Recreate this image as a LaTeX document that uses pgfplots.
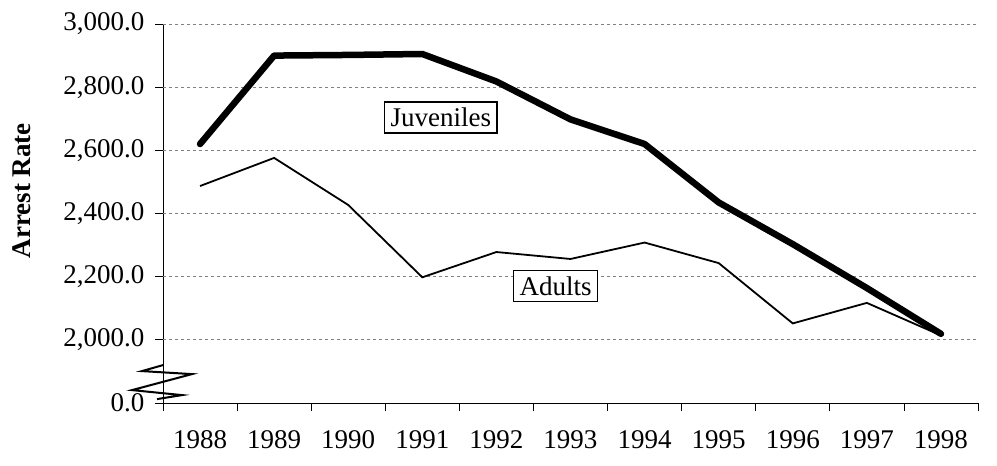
\documentclass[border=0pt]{standalone}
\usepackage{pgfplots}
\pgfplotsset{compat=1.18}
\usepackage{fontspec}
\setmainfont{Liberation Serif}
\begin{document}
\begin{tikzpicture}
\path[use as bounding box] (-163pt,-63pt) rectangle (834pt,403pt);
\begin{axis}[
  scale only axis,
  width=815pt, height=379pt,
  xmin=-0.5, xmax=10.5,
  ymin=1800, ymax=3000,
  axis x line*=bottom,
  axis y line*=left,
  axis line style={line width=0.8pt},
  xtick={0,1,2,3,4,5,6,7,8,9,10},
  xticklabels={1988,1989,1990,1991,1992,1993,1994,1995,1996,1997,1998},
  major x tick style={draw=none},
  minor xtick={-0.5,0.5,1.5,2.5,3.5,4.5,5.5,6.5,7.5,8.5,9.5,10.5},
  minor tick length=8pt,
  minor x tick style={line width=0.8pt, black},
  ytick={1800,2000,2200,2400,2600,2800,3000},
  yticklabels={{0.0},{2,000.0},{2,200.0},{2,400.0},{2,600.0},{2,800.0},{3,000.0}},
  tick align=outside,
  major tick length=8pt,
  y tick style={line width=0.8pt, black},
  ticklabel style={font=\fontsize{27}{32}\selectfont},
  xticklabel style={yshift=-16pt},
  yticklabel style={xshift=-7pt},
  extra y ticks={2000,2200,2400,2600,2800,3000},
  extra y tick labels={},
  extra y tick style={grid=major, major tick length=0pt, grid style={dashed, gray, line width=0.7pt}},
  ylabel={\textbf{Arrest Rate}},
  every axis y label/.style={at={(axis description cs:-0.173,0.56)}, rotate=90, anchor=center, font=\fontsize{27}{32}\selectfont},
  clip=false,
]
\addplot[black, line width=6.5pt, line join=round, line cap=round] coordinates {
 (0,2620) (1,2900) (2,2902) (3,2905) (4,2818) (5,2698) (6,2620) (7,2435) (8,2303) (9,2164) (10,2019)};
\addplot[black, line width=1.8pt, line join=miter] coordinates {
 (0,2487) (1,2576) (2,2427) (3,2198) (4,2278) (5,2256) (6,2308) (7,2243) (8,2052) (9,2117) (10,2014)};
\node[draw=black, line width=1.2pt, fill=white, inner xsep=6pt, inner ysep=6pt, font=\fontsize{27}{32}\selectfont] at (axis cs:3.25,2704) {Juveniles};
\node[draw=black, line width=1.2pt, fill=white, inner xsep=6pt, inner ysep=6pt, font=\fontsize{27}{32}\selectfont] at (axis cs:4.8,2171) {Adults};
\draw[black, line width=2pt] (axis cs:-0.5,1920) -- ++(-21pt,-6pt) -- ++(50pt,-3pt) -- ++(-60pt,-16pt) -- ++(50pt,-5pt) -- ++(-25pt,-4pt);
\end{axis}
\end{tikzpicture}
\end{document}
